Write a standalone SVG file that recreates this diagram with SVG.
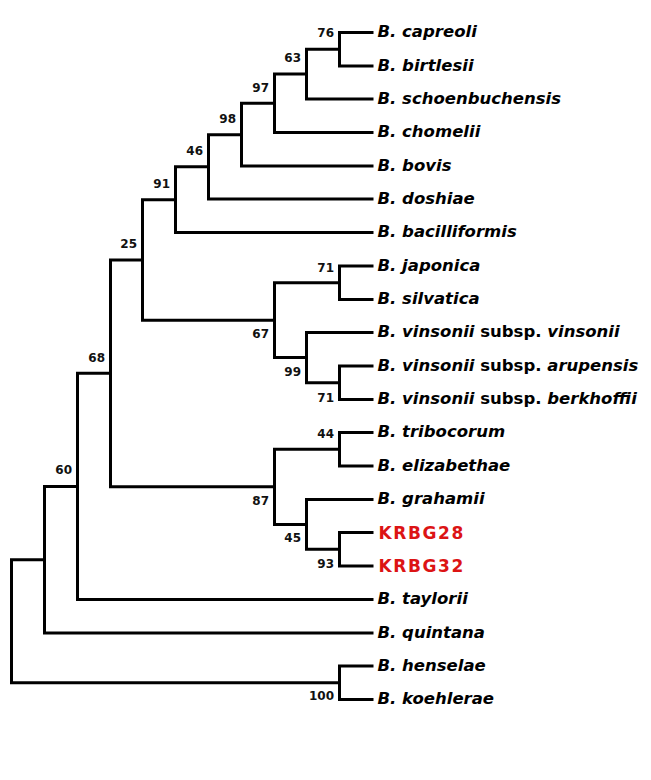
<svg xmlns="http://www.w3.org/2000/svg" width="651" height="780" viewBox="0 0 651 780">
<style>
.e{fill:none;stroke:#000;stroke-width:3;stroke-linejoin:miter;stroke-linecap:butt}
.b{font-family:"DejaVu Sans",Verdana,sans-serif;font-size:12px;font-weight:bold;fill:#111;text-anchor:end}
.t{font-family:"DejaVu Sans",Verdana,sans-serif;font-size:16.5px;font-weight:bold;font-style:italic;fill:#000}
.n{font-style:normal}
.k{font-family:"DejaVu Sans",Verdana,sans-serif;font-size:17px;font-weight:bold;fill:#dc1414;letter-spacing:1.6px}
</style>
<rect width="651" height="780" fill="#fff"/>
<g id="connectors">
<path class="e" d="M373.5 32.5H339.5V66H373.5"/>
<path class="e" d="M339.5 49.25H306.5V99H373.5"/>
<path class="e" d="M306.5 74.1H274.5V132.5H373.5"/>
<path class="e" d="M274.5 103.3H241.5V166H373.5"/>
<path class="e" d="M241.5 134.65H208.5V199H373.5"/>
<path class="e" d="M208.5 166.8H175.5V232.5H373.5"/>
<path class="e" d="M373.5 266H339.5V299.5H373.5"/>
<path class="e" d="M373.5 366H339.5V399.5H373.5"/>
<path class="e" d="M373.5 332.5H306.5V382.75H339.5"/>
<path class="e" d="M339.5 282.75H274.5V357.6H306.5"/>
<path class="e" d="M175.5 199.65H142.5V320.2H274.5"/>
<path class="e" d="M373.5 432.5H339.5V466H373.5"/>
<path class="e" d="M373.5 532.5H339.5V566H373.5"/>
<path class="e" d="M373.5 499.5H306.5V549.25H339.5"/>
<path class="e" d="M339.5 449.25H274.5V524.4H306.5"/>
<path class="e" d="M142.5 259.9H110.5V486.8H274.5"/>
<path class="e" d="M110.5 373.35H77.5V599.5H373.5"/>
<path class="e" d="M77.5 486.4H44.5V633H373.5"/>
<path class="e" d="M373.5 666H339.5V699.5H373.5"/>
<path class="e" d="M44.5 559.7H11.5V682.75H339.5"/>
</g>
<g id="node-76"><text class="b" x="334" y="37.3">76</text></g>
<g id="node-63"><text class="b" x="301" y="62">63</text></g>
<g id="node-97"><text class="b" x="269" y="92">97</text></g>
<g id="node-98"><text class="b" x="236" y="123">98</text></g>
<g id="node-46"><text class="b" x="203" y="155">46</text></g>
<g id="node-91"><text class="b" x="170" y="188">91</text></g>
<g id="node-25"><text class="b" x="137" y="248">25</text></g>
<g id="node-71a"><text class="b" x="334" y="272">71</text></g>
<g id="node-67"><text class="b" x="269" y="338">67</text></g>
<g id="node-68"><text class="b" x="105" y="362">68</text></g>
<g id="node-99"><text class="b" x="301" y="375.5">99</text></g>
<g id="node-71b"><text class="b" x="334" y="401.5">71</text></g>
<g id="node-44"><text class="b" x="334" y="437.5">44</text></g>
<g id="node-60"><text class="b" x="72" y="474">60</text></g>
<g id="node-87"><text class="b" x="269" y="505">87</text></g>
<g id="node-45"><text class="b" x="301" y="541.5">45</text></g>
<g id="node-93"><text class="b" x="334" y="568">93</text></g>
<g id="node-100"><text class="b" x="334" y="700">100</text></g>
<g id="leaf-capreoli"><text class="t" x="377.5" y="37">B. capreoli</text></g>
<g id="leaf-birtlesii"><text class="t" x="377.5" y="70.5">B. birtlesii</text></g>
<g id="leaf-schoenbuchensis"><text class="t" x="377.5" y="103.5">B. schoenbuchensis</text></g>
<g id="leaf-chomelii"><text class="t" x="377.5" y="137">B. chomelii</text></g>
<g id="leaf-bovis"><text class="t" x="377.5" y="170.5">B. bovis</text></g>
<g id="leaf-doshiae"><text class="t" x="377.5" y="203.5">B. doshiae</text></g>
<g id="leaf-bacilliformis"><text class="t" x="377.5" y="237">B. bacilliformis</text></g>
<g id="leaf-japonica"><text class="t" x="377.5" y="270.5">B. japonica</text></g>
<g id="leaf-silvatica"><text class="t" x="377.5" y="304">B. silvatica</text></g>
<g id="leaf-vinsonii"><text class="t" x="377.5" y="337">B. vinsonii<tspan class="n"> subsp. </tspan>vinsonii</text></g>
<g id="leaf-arupensis"><text class="t" x="377.5" y="370.5">B. vinsonii<tspan class="n"> subsp. </tspan>arupensis</text></g>
<g id="leaf-berkhoffii"><text class="t" x="377.5" y="404">B. vinsonii<tspan class="n"> subsp. </tspan>berkhoffii</text></g>
<g id="leaf-tribocorum"><text class="t" x="377.5" y="437">B. tribocorum</text></g>
<g id="leaf-elizabethae"><text class="t" x="377.5" y="470.5">B. elizabethae</text></g>
<g id="leaf-grahamii"><text class="t" x="377.5" y="504">B. grahamii</text></g>
<g id="leaf-KRBG28"><text class="k" x="378.5" y="538.8">KRBG28</text></g>
<g id="leaf-KRBG32"><text class="k" x="378.5" y="572.3">KRBG32</text></g>
<g id="leaf-taylorii"><text class="t" x="377.5" y="604">B. taylorii</text></g>
<g id="leaf-quintana"><text class="t" x="377.5" y="637.5">B. quintana</text></g>
<g id="leaf-henselae"><text class="t" x="377.5" y="670.5">B. henselae</text></g>
<g id="leaf-koehlerae"><text class="t" x="377.5" y="704">B. koehlerae</text></g>
</svg>
